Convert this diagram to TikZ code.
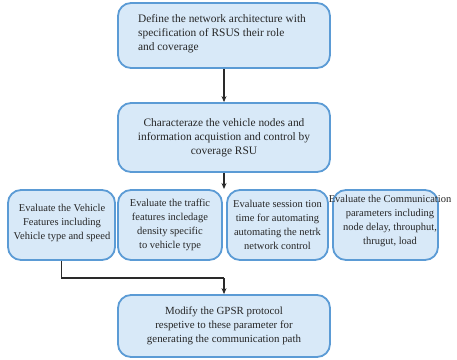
\documentclass[tikz,border=0pt]{standalone}
\usepackage{fontspec}
\setmainfont{Liberation Serif}
\usetikzlibrary{arrows.meta}
\definecolor{boxfill}{HTML}{D8E9F8}
\definecolor{boxdraw}{HTML}{5B9BD5}
\definecolor{linec}{HTML}{2A2A2A}
\tikzset{
  box/.style={draw=boxdraw, fill=boxfill, line width=1.8pt, rounded corners=13pt, inner sep=0pt},
  txt/.style={font=\fontsize{10.5}{14}\selectfont, text=black!85, inner sep=0pt},
  bigtxt/.style={txt, font=\fontsize{11.4}{14}\selectfont},
  conn/.style={draw=linec, line width=1.1pt, -{Stealth[length=6pt,width=5pt]}},
  plain/.style={draw=linec, line width=1.1pt}
}
\begin{document}
\begin{tikzpicture}[x=1pt,y=-1pt]
\useasboundingbox (0,0) rectangle (457,359);
\node[box, minimum width=212pt, minimum height=65pt] (b1) at (224,35.5) {};
\node[bigtxt, align=left] (t1) at (222,34) {Define the network architecture with\\specification of RSUS their role\\and coverage};
\node[box, minimum width=212pt, minimum height=69pt] (b2) at (224,137.5) {};
\node[bigtxt, align=center] (t2) at (b2) {Characteraze the vehicle nodes and\\information acquistion and control by\\coverage RSU};
\node[box, minimum width=107pt, minimum height=70pt] (ba) at (61.5,225) {};
\node[txt, align=center] (ta) at (62,223) {Evaluate the Vehicle\\Features including\\Vehicle type and speed};
\node[box, minimum width=104pt, minimum height=70pt] (bb) at (170,225) {};
\node[txt, align=center] (tb) at (bb) {Evaluate the traffic\\features incledage\\density specific\\to vehicle type};
\node[box, minimum width=101pt, minimum height=70pt] (bc) at (277.5,225) {};
\node[txt, align=center] (tc) at (bc) {Evaluate session tion\\time for automating\\automating the netrk\\network control};
\node[box, minimum width=105pt, minimum height=70pt] (bd) at (385.5,225) {};
\node[txt, align=center] (td) at (390,221) {Evaluate the Communication\\parameters including\\node delay, throuphut,\\thrugut, load};
\node[box, minimum width=212pt, minimum height=62pt] (b5) at (224,326) {};
\node[txt, align=center, font=\fontsize{10.9}{14}\selectfont] (t5) at (b5) {Modify the GPSR protocol\\respetive to these parameter for\\generating the communication path};
\coordinate (r) at (224,189);
\coordinate (k1) at (ba.south |- 0,278);
\coordinate (k2) at (b5.north |- 0,278);
\draw[conn] (b1.south) -- (b2.north);
\draw[conn] (b2.south) -- (r);
\draw[plain] (ba.south) -- (k1) -- (k2);
\draw[conn] (k2) -- (b5.north);
\end{tikzpicture}
\end{document}
